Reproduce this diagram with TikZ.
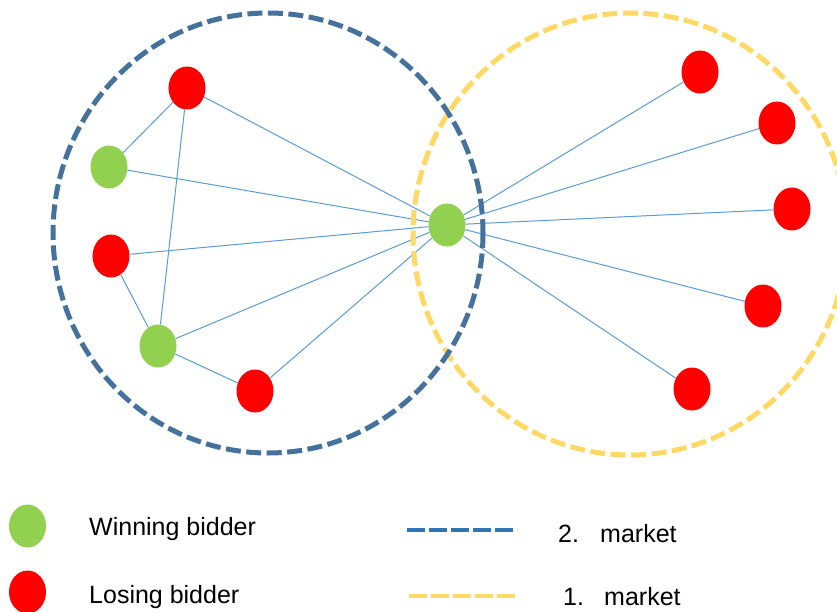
\documentclass[tikz,border=0pt]{standalone}
\usepackage{fontspec}
\setmainfont{Liberation Sans}
\usetikzlibrary{shapes.geometric}
\definecolor{winG}{HTML}{92D050}
\definecolor{loseR}{HTML}{FF0000}
\definecolor{edgeB}{HTML}{5B9BD5}
\definecolor{mktB}{HTML}{44729D}
\definecolor{legB}{HTML}{2E75B6}
\definecolor{mktY}{HTML}{FFD966}
\tikzset{
  bidder/.style={ellipse, minimum width=37pt, minimum height=43pt, inner sep=0pt},
  win/.style={bidder, fill=winG},
  lose/.style={bidder, fill=loseR},
  link/.style={draw=edgeB, line width=1pt},
  market2/.style={draw=mktB, line width=5pt, dash pattern=on 15pt off 5.5pt},
  market1/.style={draw=mktY, line width=5pt, dash pattern=on 15pt off 5.5pt},
  legtext/.style={anchor=base west, inner sep=0pt, font=\fontsize{25}{30}\selectfont}
}
\begin{document}
\begin{tikzpicture}[x=1pt, y=-1pt]
\useasboundingbox (0,0) rectangle (837,612);
\clip (0,0) rectangle (837,612);
% nodes
\node[win]  (c)  at (447,225) {};
\node[lose] (r1) at (187,88) {};
\node[win]  (g1) at (109,167) {};
\node[lose] (r2) at (111,256) {};
\node[win]  (g2) at (158,346) {};
\node[lose] (r3) at (255,391) {};
\node[lose] (s1) at (700,72) {};
\node[lose] (s2) at (777,123) {};
\node[lose] (s3) at (792,209) {};
\node[lose] (s4) at (763,306) {};
\node[lose] (s5) at (692,389) {};
% edges
\draw[link] (r1) -- (g1);
\draw[link] (r1) -- (g2);
\draw[link] (r1) -- (c);
\draw[link] (g1) -- (c);
\draw[link] (r2) -- (c);
\draw[link] (r2) -- (g2);
\draw[link] (g2) -- (c);
\draw[link] (g2) -- (r3);
\draw[link] (r3) -- (c);
\draw[link] (c) -- (s1);
\draw[link] (c) -- (s2);
\draw[link] (c) -- (s3);
\draw[link] (c) -- (s4);
\draw[link] (c) -- (s5);
% markets
\draw[market1] (630,234) ellipse [x radius=217, y radius=221];
\draw[market2] (268,233) ellipse [x radius=215, y radius=220];
% legend
\node[win]  (lw) at (27.5,526) {};
\node[lose] (ll) at (27.5,592) {};
\node[legtext] (tw) at (89,535) {Winning bidder};
\node[legtext] (tl) at (89,603) {Losing bidder};
\coordinate (b1) at (407,530);
\coordinate (b2) at (517,530);
\coordinate (y1) at (409,596);
\coordinate (y2) at (518,596);
\draw[draw=legB, line width=4.5pt, dash pattern=on 18pt off 4pt] (b1) -- (b2);
\draw[draw=mktY, line width=4.5pt, dash pattern=on 18pt off 4pt] (y1) -- (y2);
\node[legtext] (n2) at (558,542) {2.};
\node[legtext] (m2) at (600,542) {market};
\node[legtext] (n1) at (563,605) {1.};
\node[legtext] (m1) at (604,605) {market};
\end{tikzpicture}
\end{document}
